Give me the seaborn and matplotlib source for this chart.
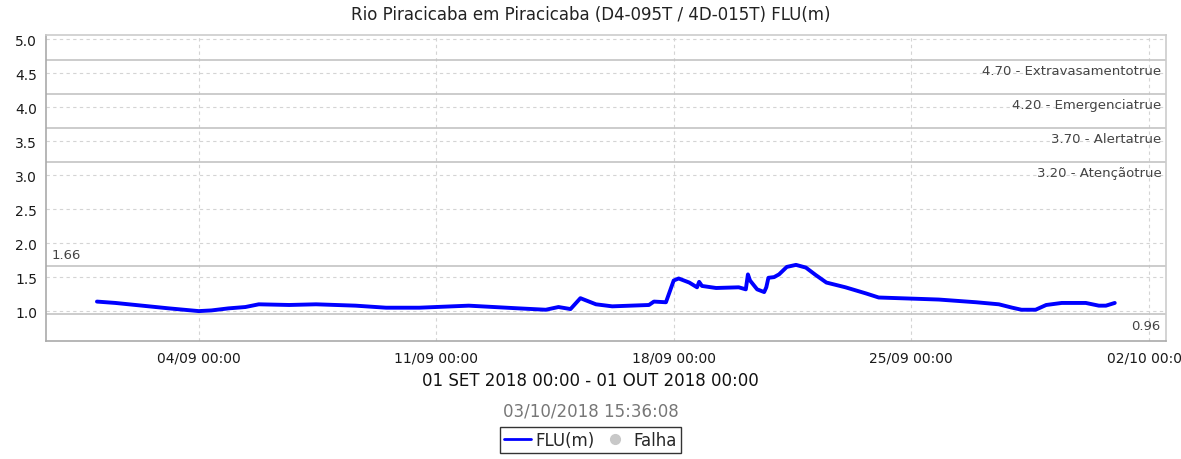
import numpy as np
import pandas as pd
import matplotlib
matplotlib.use("Agg")
import matplotlib.pyplot as plt
import matplotlib.dates as mdates
from matplotlib.lines import Line2D
import seaborn as sns

# River stage readings (FLU, metres)
timestamps = [
    "2018-09-01 00:00", "2018-09-01 13:00", "2018-09-03 03:00", "2018-09-04 00:00",
    "2018-09-04 09:00", "2018-09-04 21:00", "2018-09-05 09:00", "2018-09-05 18:30",
    "2018-09-06 16:00", "2018-09-07 11:00", "2018-09-08 15:00", "2018-09-09 12:30",
    "2018-09-10 12:00", "2018-09-11 23:00", "2018-09-13 10:30", "2018-09-14 05:30",
    "2018-09-14 14:30", "2018-09-14 23:00", "2018-09-15 06:00", "2018-09-15 17:00",
    "2018-09-16 04:30", "2018-09-17 06:30", "2018-09-17 10:00", "2018-09-17 18:30",
    "2018-09-18 00:00", "2018-09-18 03:30", "2018-09-18 11:00", "2018-09-18 16:30",
    "2018-09-18 18:00", "2018-09-18 20:00", "2018-09-19 06:00", "2018-09-19 22:00",
    "2018-09-20 03:00", "2018-09-20 04:30", "2018-09-20 06:00", "2018-09-20 11:00",
    "2018-09-20 16:00", "2018-09-20 17:30", "2018-09-20 19:00", "2018-09-20 23:00",
    "2018-09-21 02:30", "2018-09-21 08:00", "2018-09-21 14:30", "2018-09-21 21:30",
    "2018-09-22 04:30", "2018-09-22 12:00", "2018-09-23 01:30", "2018-09-23 16:00",
    "2018-09-24 01:00", "2018-09-25 05:30", "2018-09-25 19:30", "2018-09-26 22:00",
    "2018-09-27 14:00", "2018-09-27 23:30", "2018-09-28 06:00", "2018-09-28 16:00",
    "2018-09-28 23:30", "2018-09-29 10:30", "2018-09-30 03:30", "2018-09-30 12:45",
    "2018-09-30 17:45", "2018-10-01 00:00",
]
levels = [
    1.14, 1.12, 1.04, 1.00,
    1.01, 1.04, 1.06, 1.10,
    1.09, 1.10, 1.08, 1.05,
    1.05, 1.08, 1.04, 1.02,
    1.06, 1.03, 1.19, 1.10,
    1.07, 1.09, 1.14, 1.13,
    1.45, 1.48, 1.42, 1.35,
    1.43, 1.37, 1.34, 1.35,
    1.32, 1.54, 1.45, 1.32,
    1.28, 1.35, 1.49, 1.50,
    1.54, 1.65, 1.68, 1.64,
    1.53, 1.42, 1.35, 1.26,
    1.20, 1.18, 1.17, 1.13,
    1.10, 1.05, 1.02, 1.02,
    1.09, 1.12, 1.12, 1.08,
    1.08, 1.12,
]

# Threshold lines and their labels
threshold_values = [4.70, 4.20, 3.70, 3.20]
threshold_names = ["Extravasamento", "Emergencia", "Alerta", "Atenção"]
max_level = 1.66
min_level = 0.96

x_tick_dates = ["2018-09-04", "2018-09-11", "2018-09-18", "2018-09-25", "2018-10-02"]
y_ticks = [1.0, 1.5, 2.0, 2.5, 3.0, 3.5, 4.0, 4.5, 5.0]

title = "Rio Piracicaba em Piracicaba (D4-095T / 4D-015T) FLU(m)"
period_label = "01 SET 2018 00:00 - 01 OUT 2018 00:00"
generated_at = "03/10/2018 15:36:08"

df = pd.DataFrame({"time": pd.to_datetime(timestamps), "FLU(m)": levels})

sns.set_style("white")
plt.rcParams["font.family"] = ["DejaVu Sans"]

fig = plt.figure(figsize=(11.81, 4.60), dpi=100)
ax = fig.add_axes([0.039, 0.2565, 0.948, 0.665])

sns.lineplot(data=df, x="time", y="FLU(m)", ax=ax, color="#0000ff",
             linewidth=2.8, legend=False)

# Limits and ticks
start = df["time"].min() - pd.Timedelta(hours=36)
end = df["time"].max() + pd.Timedelta(hours=36)
ax.set_xlim(start, end)
ax.set_ylim(0.56, 5.06)
ax.set_xticks(pd.to_datetime(x_tick_dates))
ax.xaxis.set_major_formatter(mdates.DateFormatter("%d/%m %H:%M"))
ax.set_yticks(y_ticks)
ax.set_yticklabels([f"{v:.1f}" for v in y_ticks])
ax.tick_params(axis="both", labelsize=10, labelcolor="#1a1a1a", length=3,
               direction="out", width=0.8, color="#999999")

ax.grid(True, linestyle=(0, (3, 3)), color="#d4d4d4", linewidth=0.8)
ax.set_axisbelow(True)
for side, spine in ax.spines.items():
    spine.set_color("#aaaaaa" if side in ("left", "bottom") else "#cccccc")
    spine.set_linewidth(1.2)

# Threshold lines
label_style = dict(fontsize=9.5, color="#444444")
for val, name in zip(threshold_values, threshold_names):
    ax.axhline(val, color="#c4c4c4", linewidth=1.2, zorder=1)
    ax.annotate(f"{val:.2f} - {name}true", xy=(1, val), xycoords=("axes fraction", "data"),
                xytext=(-3, -3), textcoords="offset points", ha="right", va="top",
                **label_style)

ax.axhline(max_level, color="#c4c4c4", linewidth=1.2, zorder=1)
ax.annotate(f"{max_level:.2f}", xy=(0, max_level), xycoords=("axes fraction", "data"),
            xytext=(4, 4), textcoords="offset points", ha="left", va="bottom",
            **label_style)
ax.axhline(min_level, color="#c4c4c4", linewidth=1.2, zorder=1)
ax.annotate(f"{min_level:.2f}", xy=(1, min_level), xycoords=("axes fraction", "data"),
            xytext=(-4, -4), textcoords="offset points", ha="right", va="top",
            **label_style)

ax.set_xlabel("")
ax.set_ylabel("")

fig.text(0.5, 0.967, title, ha="center", va="center", fontsize=12, color="#222222")
fig.text(0.5, 0.172, period_label, ha="center", va="center", fontsize=12, color="#111111")
fig.text(0.5, 0.106, generated_at, ha="center", va="center", fontsize=12, color="#777777")

handles = [
    Line2D([], [], color="#0000ff", linewidth=2),
    Line2D([], [], color="#c8c8c8", marker="o", linestyle="none", markersize=7),
]
leg = fig.legend(handles, ["FLU(m)", "Falha"], loc="center", bbox_to_anchor=(0.5, 0.042),
                 ncol=2, frameon=True, fancybox=False, fontsize=12, handlelength=1.6,
                 handletextpad=0.3, columnspacing=0.4, borderpad=0.25, borderaxespad=0)
leg.get_frame().set_edgecolor("#000000")
leg.get_frame().set_linewidth(1.0)

fig.savefig("out.png", dpi=100)
